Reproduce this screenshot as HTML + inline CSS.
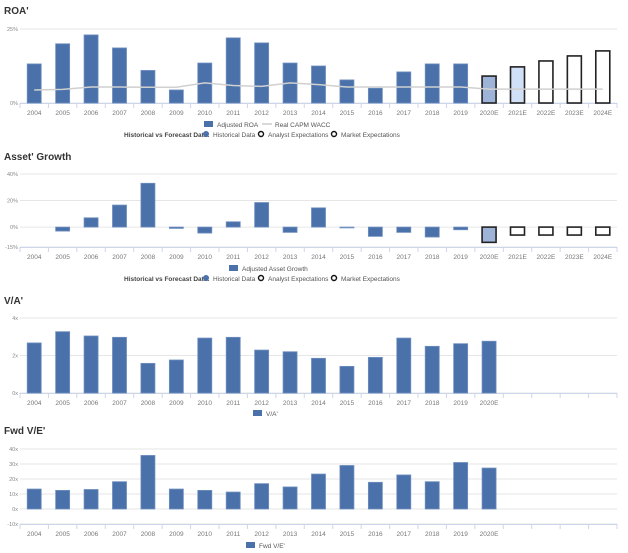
<!DOCTYPE html>
<html><head><meta charset="utf-8">
<style>
body{margin:0;background:#fff;font-family:"Liberation Sans",sans-serif;}
svg{display:block}
</style></head>
<body>
<svg id="c" width="628" height="553" viewBox="0 0 628 553" xmlns="http://www.w3.org/2000/svg" font-family="Liberation Sans, sans-serif"></svg>
<script>
const years = ["2004","2005","2006","2007","2008","2009","2010","2011","2012","2013","2014","2015","2016","2017","2018","2019","2020E","2021E","2022E","2023E","2024E"];
const roaValues = [13.2,20,23,18.6,11,4.4,13.5,22,20.3,13.5,12.5,7.8,5,10.5,13.2,13.2,9.1,12.2,14.2,15.9,17.6];
const waccValues = [4.4,4.6,5.4,5.4,5.3,5.3,6.8,5.9,5.6,6.8,6.2,5.4,5.4,5.4,5.4,5.4,4.7,4.7,4.7,4.7,4.7];
const roaTicks = [0,25];
const growthValues = [null,-3,7,16.6,33,-1,-4.5,4,18.5,-4,14.5,0,-7,-4,-7.5,-2,-11.5,-6,-6,-6,-6];
const growthTicks = [-15,0,20,40];
const vaValues = [2.67,3.27,3.04,2.97,1.58,1.76,2.93,2.97,2.29,2.2,1.85,1.42,1.9,2.93,2.49,2.63,2.76];
const vaTicks = [0,2,4];
const veValues = [13.3,12.4,13,18.2,35.7,13.3,12.4,11.3,16.9,14.7,23.3,29,17.8,22.7,18.2,31,27.3];
const veTicks = [-10,0,10,20,30,40];

const svg = document.getElementById('c');
const NS = 'http://www.w3.org/2000/svg';
function mk(tag, attrs, parent, text){
  const e = document.createElementNS(NS, tag);
  for (const k in attrs) e.setAttribute(k, attrs[k]);
  if (text !== undefined) e.textContent = text;
  (parent || svg).appendChild(e);
  return e;
}
const X0 = 20, X1 = 617, N = years.length, CW = (X1 - X0) / N, BW = 14;
function cx(i){ return X0 + CW * (i + 0.5); }

function chart(opt){
  const g = mk('g', {});
  
  
  const t = mk('text', {x:4, y:opt.titleY, 'font-size':10, 'font-weight':'bold', fill:'#333'}, g, opt.title);
  
  
  const yMin = opt.ticks[0], yMax = opt.ticks[opt.ticks.length - 1];
  const y = v => opt.bottom - (v - yMin) / (yMax - yMin) * (opt.bottom - opt.top);
  opt.ticks.forEach(tv => {
    const gl = mk('line', {x1:X0, x2:X1, y1:y(tv), y2:y(tv), stroke:'#e6e6e6', 'stroke-width':1}, g);
    
    
    const tl = mk('text', {x:X0 - 2, y:y(tv) + 2, 'font-size':5.5, fill:'#888', 'text-anchor':'end'}, g, opt.fmt(tv));
    
    
  });
  const ax = mk('line', {x1:X0, x2:X1, y1:opt.bottom + 0.5, y2:opt.bottom + 0.5, stroke:'#ccd6eb', 'stroke-width':1}, g);
  
  
  for (let i = 0; i <= N; i++) {
    mk('line', {x1:X0 + CW * i, x2:X0 + CW * i, y1:opt.bottom, y2:opt.bottom + 5, stroke:'#ccd6eb', 'stroke-width':1}, g);
  }
  const nLabels = opt.labelCount || N;
  for (let i = 0; i < nLabels; i++) {
    const xl = mk('text', {x:cx(i), y:opt.bottom + 12, 'font-size':6.5, fill:'#777', 'text-anchor':'middle'}, g, years[i]);
    
    
  }
  const base = y(Math.max(0, yMin));
  opt.values.forEach((v, i) => {
    if (v === null) return;
    const y0 = y(0), yv = y(v);
    let fill = '#4a71a9', stroke = '#6f8fbf', sw = 0.8;
    if (opt.forecast && i === 16) { fill = '#9db4d8'; stroke = '#222'; sw = 1.6; }
    else if (opt.forecast && i === 17 && opt.name === 'roa') { fill = '#cfe0f7'; stroke = '#222'; sw = 1.6; }
    else if (opt.forecast && i >= 17) { fill = '#fff'; stroke = '#222'; sw = 1.6; }
    const h = Math.max(Math.abs(y0 - yv), 0.8);
    const b = mk('rect', {x:cx(i) - BW / 2, y:Math.min(y0, yv), width:BW, height:h, fill:fill, stroke:stroke, 'stroke-width':sw}, g);
    
    
  });
  if (opt.line) {
    const pts = opt.line.map((v, i) => cx(i).toFixed(1) + ',' + y(v).toFixed(1)).join(' ');
    const l = mk('polyline', {points:pts, fill:'none', stroke:'#d0d0d0', 'stroke-width':1.5}, g);
    
    
  }
  return g;
}
function legendItem(x, yy, label, kind, name){
  const g = mk('g', {});
  
  
  if (kind === 'bar') mk('rect', {x:x, y:yy - 6, width:9, height:6, fill:'#4a71a9'}, g);
  if (kind === 'line') mk('line', {x1:x, x2:x + 10, y1:yy - 3, y2:yy - 3, stroke:'#ccc', 'stroke-width':1.5}, g);
  if (kind === 'dot') mk('circle', {cx:x + 3, cy:yy - 3, r:3, fill:'#4a71a9'}, g);
  if (kind === 'ring') mk('circle', {cx:x + 3, cy:yy - 3, r:2.5, fill:'#fff', stroke:'#111', 'stroke-width':1.4}, g);
  mk('text', {x:x + (kind === 'bar' || kind === 'line' ? 13 : 10), y:yy, 'font-size':6.5, fill:'#555'}, g, label);
}
function forecastLegend(yy){
  const t = mk('text', {x:124, y:yy, 'font-size':6.5, 'font-weight':'bold', fill:'#444'}, svg, 'Historical vs Forecast Data:');
  
  
  legendItem(203, yy, 'Historical Data', 'dot', 'legend-historical');
  legendItem(258, yy, 'Analyst Expectations', 'ring', 'legend-analyst');
  legendItem(331, yy, 'Market Expectations', 'ring', 'legend-market');
}

chart({name:'roa', title:"ROA'", titleY:14, top:29, bottom:103, ticks:roaTicks, values:roaValues, line:waccValues, forecast:true, fmt:v => v + '%'});
legendItem(204, 127, 'Adjusted ROA', 'bar', 'legend-adjusted-roa');
legendItem(262, 127, 'Real CAPM WACC', 'line', 'legend-wacc');
forecastLegend(137);

chart({name:'asset-growth', title:"Asset' Growth", titleY:160, top:174, bottom:247, ticks:growthTicks, values:growthValues, forecast:true, fmt:v => v + '%'});
legendItem(229, 271, 'Adjusted Asset Growth', 'bar', 'legend-asset-growth');
forecastLegend(281);

chart({name:'va', title:"V/A'", titleY:304, top:318, bottom:393, ticks:vaTicks, values:vaValues, labelCount:17, fmt:v => v + 'x'});
legendItem(253, 416, "V/A'", 'bar', 'legend-va');

chart({name:'fwd-ve', title:"Fwd V/E'", titleY:434, top:449, bottom:524, ticks:veTicks, values:veValues, labelCount:17, fmt:v => v + 'x'});
legendItem(246, 548, "Fwd V/E'", 'bar', 'legend-fwd-ve');
</script>
</body></html>
